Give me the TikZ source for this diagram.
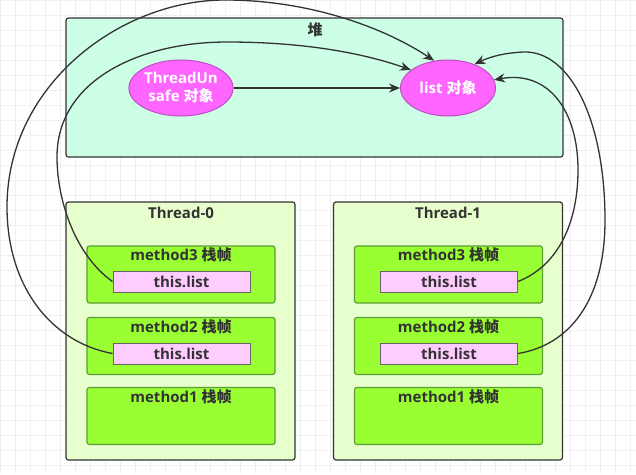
\documentclass[tikz,border=0pt]{standalone}
\usepackage{fontspec}
\setmainfont{Open Sans}
\newfontfamily\cjk{Noto Sans CJK SC}
\usetikzlibrary{shapes.geometric,arrows.meta}
\definecolor{heapfill}{HTML}{CCFFE6}
\definecolor{thrfill}{HTML}{E6FFCC}
\definecolor{methfill}{HTML}{99FF33}
\definecolor{methline}{HTML}{5E9C3A}
\definecolor{reffill}{HTML}{FFCCFF}
\definecolor{objfill}{HTML}{FF66FF}
\definecolor{objline}{HTML}{C04CC0}
\definecolor{ink}{HTML}{333333}
\definecolor{gridc}{HTML}{F0F0F0}
\begin{document}
\begin{tikzpicture}[x=1pt,y=-1pt,
  box/.style={draw=ink,line width=1.2pt,rounded corners=2.5pt,inner sep=0pt},
  heapbox/.style={box,fill=heapfill,minimum width=497pt,minimum height=139pt},
  thrbox/.style={box,fill=thrfill,minimum width=229pt,minimum height=258pt},
  methbox/.style={box,draw=methline,fill=methfill,minimum width=188pt,minimum height=57pt},
  refbox/.style={draw=black!60,line width=1pt,fill=reffill,inner sep=0pt,minimum width=137pt,minimum height=21pt,font=\bfseries\fontsize{15}{17}\selectfont,text=ink},
  obj/.style={ellipse,draw=objline,line width=1pt,fill=objfill,inner sep=0pt,minimum width=95pt,minimum height=56pt,text=white,font=\bfseries\fontsize{15}{18}\selectfont,align=center},
  ttl/.style={text=ink,font=\bfseries\fontsize{15}{17}\selectfont,inner sep=0pt},
  link/.style={draw=ink,line width=1.3pt},
  arr/.style={link,-{Stealth[length=11pt,width=9pt]}}
]
\useasboundingbox (0,0) rectangle (636,474);
\fill[white] (0,0) rectangle (636,474);
\draw[gridc,line width=0.6pt] (0,0) grid[step=15pt] (636,474);

% heap
\node[heapbox] (heap) at (314.5,87.5) {};
\node[ttl] (heapt) at (315,30) {\cjk 堆};
\node[obj] (tu) at (181,88) {ThreadUn\\safe {\cjk 对象}};
\node[obj] (lo) at (448,88) {list {\cjk 对象}};

% thread 0
\node[thrbox] (t0) at (180.5,331) {};
\node[ttl] (t0t) at (181,213) {Thread-0};
\node[methbox] (m03) at (181,274.5) {};
\node[ttl] (m03t) at (181,255) {method3 {\cjk 栈帧}};
\node[refbox] (l03) at (181.5,281.5) {this.list};
\node[methbox] (m02) at (181,346) {};
\node[ttl] (m02t) at (181,327) {method2 {\cjk 栈帧}};
\node[refbox] (l02) at (181.5,353.5) {this.list};
\node[methbox] (m01) at (181,416) {};
\node[ttl] (m01t) at (181,397) {method1 {\cjk 栈帧}};

% thread 1
\node[thrbox] (t1) at (448,331) {};
\node[ttl] (t1t) at (448,213) {Thread-1};
\node[methbox] (m13) at (448.5,274.5) {};
\node[ttl] (m13t) at (448.5,255) {method3 {\cjk 栈帧}};
\node[refbox] (l13) at (449,281.5) {this.list};
\node[methbox] (m12) at (448.5,346) {};
\node[ttl] (m12t) at (448.5,327) {method2 {\cjk 栈帧}};
\node[refbox] (l12) at (449,353.5) {this.list};
\node[methbox] (m11) at (448.5,416) {};
\node[ttl] (m11t) at (448.5,397) {method1 {\cjk 栈帧}};

% connectors
\draw[arr] (tu.east) -- (lo.west);
\draw[arr] (l03.west) .. controls (75,255) and (57,200) .. (57,157)
  .. controls (57,80) and (140,42) .. (227,42)
  .. controls (300,42) and (360,52) .. (lo.154);
\draw[arr] (l02.west) .. controls (50,342) and (7,285) .. (7,207)
  .. controls (7,85) and (120,0) .. (225,0)
  .. controls (310,0) and (385,28) .. (lo.117);
\draw[arr] (l13.east) .. controls (560,265) and (578,220) .. (578,170)
  .. controls (578,110) and (548,70) .. (lo.10);
\draw[arr] (l12.east) .. controls (570,345) and (605,300) .. (605,220)
  .. controls (605,120) and (570,50) .. (523,52)
  .. controls (505,53) and (492,56) .. (lo.42);
\end{tikzpicture}
\end{document}
